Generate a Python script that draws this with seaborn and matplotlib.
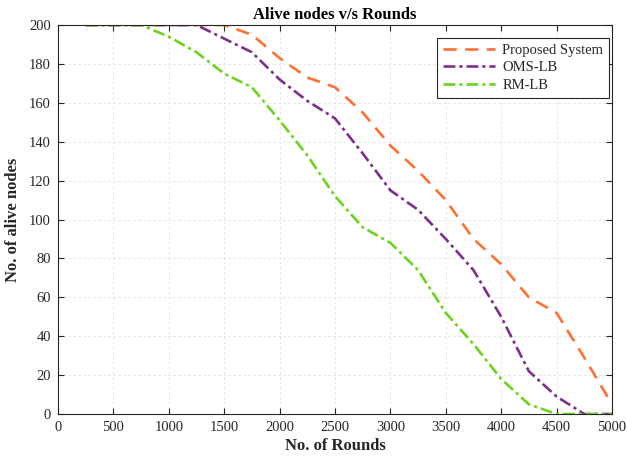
import matplotlib
matplotlib.use("Agg")
import matplotlib.pyplot as plt
import seaborn as sns
import pandas as pd

rounds = [250, 500, 750, 1000, 1250, 1500, 1750, 2000, 2250, 2500,
          2750, 3000, 3250, 3500, 3750, 4000, 4250, 4500, 4750, 5000]
proposed = [200, 200, 200, 200, 200, 200, 195, 183, 173, 168,
            155, 138, 125, 110, 90, 77, 60, 52, 29, 5]
oms_lb = [200, 200, 200, 200, 200, 193, 186, 172, 161, 152,
          134, 115, 105, 90, 74, 50, 22, 9, 0, 0]
rm_lb = [200, 200, 200, 194, 186, 175, 168, 151, 133, 112,
         96, 88, 74, 52, 36, 18, 5, 0, 0, 0]

series_names = ["Proposed System", "OMS-LB", "RM-LB"]
series_values = [proposed, oms_lb, rm_lb]
colors = ["#FF7033", "#7E2F8E", "#6BD41E"]
styles = [(0, (5, 3.2)), (0, (4.5, 1.5, 1.2, 1.5)), (0, (4.5, 1.5, 1.2, 1.5))]

sns.set_theme(style="white")
plt.rcParams["font.family"] = ["Liberation Serif", "DejaVu Serif"]

fig = plt.figure(figsize=(6.27, 4.59), dpi=100)
ax = fig.add_axes([0.0925, 0.098, 0.8835, 0.8475])

for name, vals, c, ls in zip(series_names, series_values, colors, styles):
    df = pd.DataFrame({"Rounds": rounds, "Alive": vals})
    sns.lineplot(data=df, x="Rounds", y="Alive", ax=ax, color=c,
                 linewidth=1.9, label=name, linestyle=ls)

ax.set_xlim(0, 5000)
ax.set_ylim(0, 200)
ax.set_xticks(range(0, 5001, 500))
ax.set_yticks(range(0, 201, 20))
ax.grid(True, color="#e2e2e2", linestyle=(0, (3, 3)), linewidth=0.6)
ax.tick_params(direction="in", length=4, width=0.8, colors="#262626",
               labelsize=10.5, top=True, right=True,
               bottom=True, left=True, pad=5)
for sp in ax.spines.values():
    sp.set_color("#262626")
    sp.set_linewidth(0.8)

ax.set_title("Alive nodes v/s Rounds", fontsize=12, fontweight="bold",
             color="black", pad=4)
ax.set_xlabel("No. of Rounds", fontsize=12, fontweight="bold", labelpad=3)
ax.set_ylabel("No. of alive nodes", fontsize=12, fontweight="bold", labelpad=6)

leg = ax.legend(loc="upper right", bbox_to_anchor=(0.995, 0.967),
                fontsize=10.5, frameon=True, fancybox=False,
                edgecolor="#262626", framealpha=1, handlelength=3.6,
                borderaxespad=0, labelspacing=0.3, handletextpad=0.5,
                borderpad=0.4)
leg.get_frame().set_linewidth(0.8)

fig.savefig("out.png", dpi=100)
